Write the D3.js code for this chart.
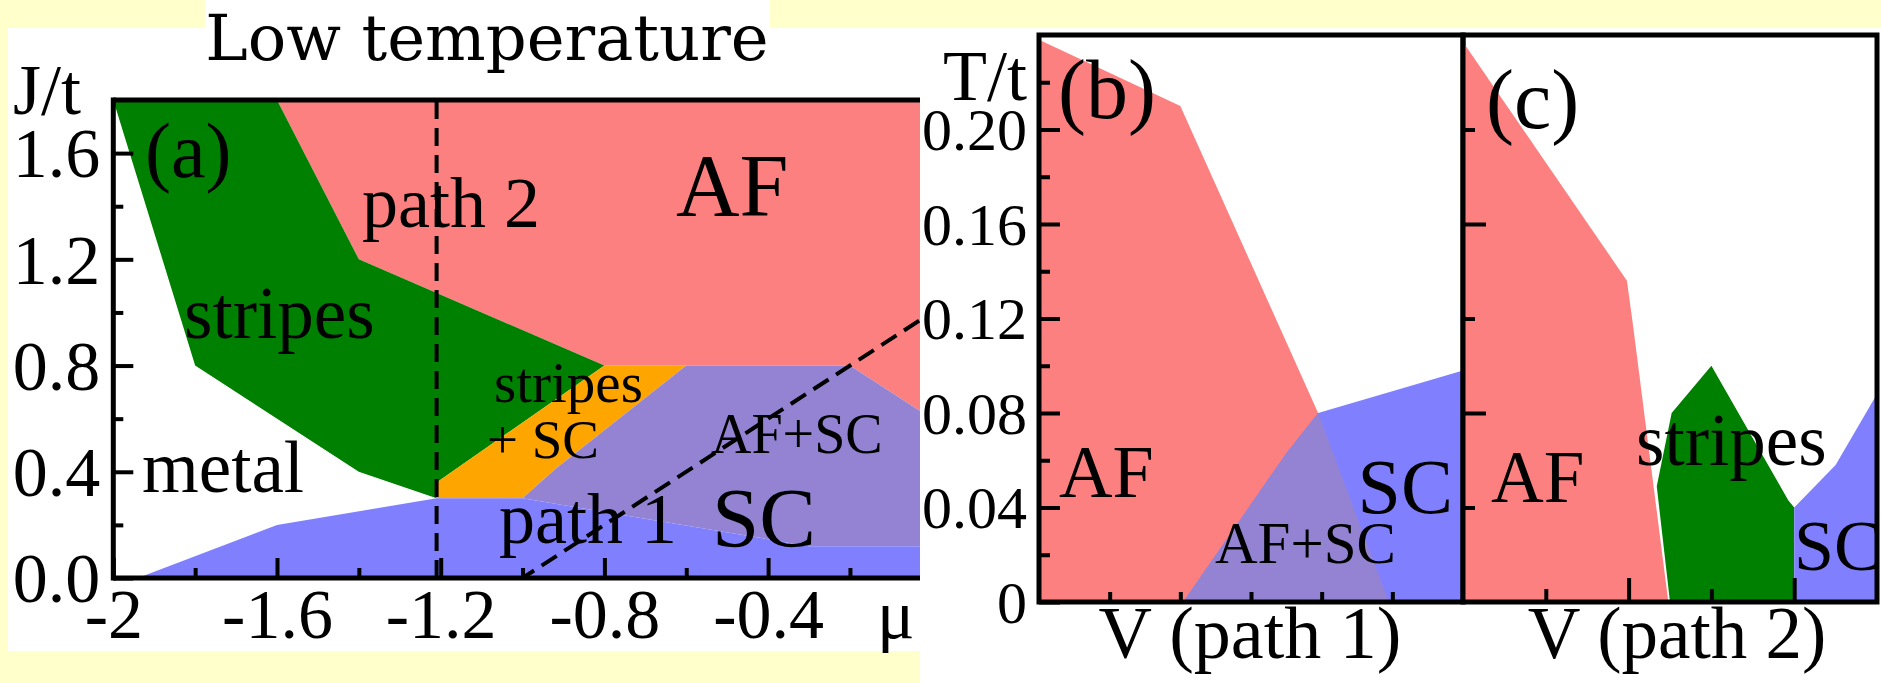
<!DOCTYPE html>
<html>
<head>
<meta charset="utf-8">
<script src="https://cdn.jsdelivr.net/npm/d3@7"></script>
<style>
  html, body { margin: 0; padding: 0; background: #ffffcc; }
  svg { display: block; }
  text { font-family: "Liberation Serif", "Times New Roman", serif; fill: #000; }
</style>
</head>
<body>
<svg id="fig" width="1881" height="683"></svg>
<script>
// ---------- Panel (a): low-temperature phase diagram in the (mu, J/t) plane ----------
const muMajorTicks = [-2, -1.6, -1.2, -0.8, -0.4];
const muMajorLabels = ["-2", "-1.6", "-1.2", "-0.8", "-0.4"];
const muMinorTicks = [-1.8, -1.4, -1.0, -0.6, -0.2];
const jMajorTicks = [0, 0.4, 0.8, 1.2, 1.6];
const jMajorLabels = ["0.0", "0.4", "0.8", "1.2", "1.6"];
const jMinorTicks = [0.2, 0.6, 1.0, 1.4];

// phase regions, [mu, J/t] vertices
const afRegionA       = [[-1.6, 1.8], [0, 1.8], [0, 0.6], [-0.2, 0.8], [-0.8, 0.8], [-1.4, 1.2]];
const stripesRegionA  = [[-2, 1.8], [-1.6, 1.8], [-1.4, 1.2], [-0.8, 0.8], [-1.21, 0.36], [-1.21, 0.3], [-1.4, 0.4], [-1.8, 0.8]];
const stripesScRegionA = [[-1.21, 0.3], [-1.21, 0.36], [-0.8, 0.8], [-0.6, 0.8], [-0.92, 0.41], [-1.0, 0.3]];
const afScRegionA     = [[-1.0, 0.3], [-0.92, 0.41], [-0.6, 0.8], [-0.2, 0.8], [0, 0.6], [0, 0.12], [-0.3, 0.12]];
const scRegionA       = [[-1.94, 0], [-1.6, 0.2], [-1.21, 0.3], [-1.0, 0.3], [-0.3, 0.12], [0, 0.12], [0, 0]];

// the two cuts followed in panels (b) and (c)
const path1 = [[-2, 0], [-1.0, 0], [0, 1.0]];
const path2 = [[-1.21, 0], [-1.21, 1.8]];

// ---------- Panel (b): T/t along path 1 ----------
const tMajorTicks = [0, 0.04, 0.08, 0.12, 0.16, 0.20];
const tMajorLabels = ["0", "0.04", "0.08", "0.12", "0.16", "0.20"];
const tMinorTicks = [0.02, 0.06, 0.10, 0.14, 0.18, 0.22];
const vTicksB = [1, 2, 3, 4, 5];

const afRegionB   = [[0, 0], [0, 0.238], [2, 0.21], [3.95, 0.08], [4.95, 0]];
const scRegionB   = [[2.04, 0], [3.5, 0.063], [3.95, 0.08], [6, 0.098], [6, 0]];
const afScRegionB = [[2.04, 0], [3.5, 0.063], [3.95, 0.08], [4.95, 0]];

// ---------- Panel (c): T/t along path 2 ----------
const tMajorTicksC = [0.08, 0.16];
const tMinorTicksC = [0.04, 0.12, 0.20];
const vMajorTicksC = [2, 4];
const vMinorTicksC = [1, 3];

const afRegionC      = [[0, 0], [0, 0.237], [1.98, 0.136], [2.05, 0.118], [2.48, 0]];
const stripesRegionC = [[2.5, 0], [2.34, 0.049], [2.52, 0.08], [3, 0.1], [3.93, 0.043], [4, 0.04], [4, 0]];
const scRegionC      = [[4, 0], [4, 0.04], [4.5, 0.058], [5, 0.088], [5, 0]];

// ---------- styling ----------
const colors = {
  af: "#fc8080",
  sc: "#8080ff",
  afsc: "#9383d2",
  stripes: "#008000",
  stripesSc: "#ffa500"
};
const frameWidth = 5;

const svg = d3.select("#fig");

// backgrounds
svg.append("rect").attr("x", 0).attr("y", 0).attr("width", 1881).attr("height", 683).attr("fill", "#ffffcc");
svg.append("rect").attr("x", 8).attr("y", 28).attr("width", 920 - 8).attr("height", 651 - 28).attr("fill", "#fff");
svg.append("rect").attr("x", 205).attr("y", 0).attr("width", 770 - 205).attr("height", 30).attr("fill", "#fff");

svg.append("text")
  .attr("x", 487).attr("y", 60)
  .attr("text-anchor", "middle")
  .style("font-family", "'DejaVu Serif', serif")
  .style("font-size", "64px")
  .text("Low temperature");

// helpers
function region(g, pts, x, y, fill) {
  g.append("path")
    .datum(pts)
    .attr("d", d3.line().x(d => x(d[0])).y(d => y(d[1])).curve(d3.curveLinearClosed))
    .attr("fill", fill)
    .attr("stroke", "none");
}
function label(g, txt, xPos, yPos, size, anchor) {
  g.append("text").attr("x", xPos).attr("y", yPos)
    .attr("text-anchor", anchor || "start")
    .style("font-size", size + "px")
    .text(txt);
}
function styleAxis(sel, w) {
  sel.select(".domain").remove();
  sel.selectAll(".tick line").attr("stroke", "#000").attr("stroke-width", w);
  sel.selectAll(".tick text").attr("fill", "#000").style("font-family", "'Liberation Serif', serif");
}

// ================= Panel (a) =================
const xA = d3.scaleLinear().domain([-2, 0]).range([113.3, 931.8]);
const yA = d3.scaleLinear().domain([0, 1.8]).range([578, 100]);
const gA = svg.append("g");

svg.append("defs").append("clipPath").attr("id", "clipA")
  .append("rect").attr("x", xA(-2)).attr("y", yA(1.8)).attr("width", 920 - xA(-2)).attr("height", yA(0) - yA(1.8));

const plotA = gA.append("g").attr("clip-path", "url(#clipA)");
region(plotA, afRegionA, xA, yA, colors.af);
region(plotA, stripesRegionA, xA, yA, colors.stripes);
region(plotA, stripesScRegionA, xA, yA, colors.stripesSc);
region(plotA, afScRegionA, xA, yA, colors.afsc);
region(plotA, scRegionA, xA, yA, colors.sc);

// minor + major ticks (drawn inward)
const axAyMinor = gA.append("g").attr("transform", `translate(${xA(-2)},0)`)
  .call(d3.axisLeft(yA).tickValues(jMinorTicks).tickSize(-10).tickFormat(""));
styleAxis(axAyMinor, 4);
const axAy = gA.append("g").attr("transform", `translate(${xA(-2)},0)`)
  .call(d3.axisLeft(yA).tickValues(jMajorTicks).tickSize(-20).tickPadding(13)
    .tickFormat((d, i) => jMajorLabels[i]));
styleAxis(axAy, 4);
axAy.selectAll(".tick text").style("font-size", "70px").attr("dy", "0.34em");

const axAxMinor = gA.append("g").attr("transform", `translate(0,${yA(0)})`)
  .call(d3.axisBottom(xA).tickValues(muMinorTicks).tickSize(-10).tickFormat(""));
styleAxis(axAxMinor, 4);
const axAx = gA.append("g").attr("transform", `translate(0,${yA(0)})`)
  .call(d3.axisBottom(xA).tickValues(muMajorTicks).tickSize(-20).tickPadding(0)
    .tickFormat((d, i) => muMajorLabels[i]));
styleAxis(axAx, 4);
axAx.selectAll(".tick text").style("font-size", "70px").attr("dy", null).attr("y", 60);

// dashed cuts
const cutLine = d3.line().x(d => xA(d[0])).y(d => yA(d[1]));
[path1, path2].forEach(p => {
  plotA.append("path").datum(p).attr("d", cutLine)
    .attr("fill", "none").attr("stroke", "#000").attr("stroke-width", 4)
    .attr("stroke-dasharray", "18,9");
});

// frame
gA.append("line").attr("x1", xA(-2)).attr("x2", 920).attr("y1", yA(1.8)).attr("y2", yA(1.8))
  .attr("stroke", "#000").attr("stroke-width", frameWidth);
gA.append("line").attr("x1", xA(-2)).attr("x2", 920).attr("y1", yA(0)).attr("y2", yA(0))
  .attr("stroke", "#000").attr("stroke-width", frameWidth);
gA.append("line").attr("x1", xA(-2)).attr("x2", xA(-2)).attr("y1", yA(1.8) - 2.5).attr("y2", yA(0) + 2.5)
  .attr("stroke", "#000").attr("stroke-width", frameWidth);

// labels
label(gA, "J/t", 13, 114, 72);
label(gA, "\u03bc", 877, 638, 70);
label(gA, "(a)", 145, 177, 78);
label(gA, "path 2", 362, 227, 72);
label(gA, "AF", 676, 215, 88);
label(gA, "stripes", 184, 338, 73);
label(gA, "metal", 142, 492, 73);
label(gA, "stripes", 494, 402, 57);
label(gA, "+ SC", 487, 458, 55);
label(gA, "AF+SC", 711, 453, 56);
label(gA, "path 1", 499, 543, 72);
label(gA, "SC", 712, 547, 85);

// ================= Panels (b) and (c) background =================
svg.append("rect").attr("x", 920).attr("y", 28).attr("width", 1881 - 920).attr("height", 683 - 28).attr("fill", "#fff");

// ================= Panel (b) =================
const xB = d3.scaleLinear().domain([0, 6]).range([1039, 1463]);
const yB = d3.scaleLinear().domain([0, 0.24]).range([602, 35]);
const gB = svg.append("g");

region(gB, afRegionB, xB, yB, colors.af);
region(gB, scRegionB, xB, yB, colors.sc);
region(gB, afScRegionB, xB, yB, colors.afsc);

const axByMinor = gB.append("g").attr("transform", `translate(${xB(0)},0)`)
  .call(d3.axisLeft(yB).tickValues(tMinorTicks).tickSize(-11).tickFormat(""));
styleAxis(axByMinor, 4);
const axBy = gB.append("g").attr("transform", `translate(${xB(0)},0)`)
  .call(d3.axisLeft(yB).tickValues(tMajorTicks).tickSize(-21).tickPadding(12)
    .tickFormat((d, i) => tMajorLabels[i]));
styleAxis(axBy, 4);
axBy.selectAll(".tick text").style("font-size", "60px").attr("dy", "0.34em");

const axBx = gB.append("g").attr("transform", `translate(0,${yB(0)})`)
  .call(d3.axisBottom(xB).tickValues(vTicksB).tickSize(-10).tickFormat(""));
styleAxis(axBx, 4);

gB.append("rect").attr("x", xB(0)).attr("y", yB(0.24)).attr("width", xB(6) - xB(0)).attr("height", yB(0) - yB(0.24))
  .attr("fill", "none").attr("stroke", "#000").attr("stroke-width", frameWidth);

label(gB, "T/t", 1027, 100, 72, "end");
label(gB, "(b)", 1058, 118, 84);
label(gB, "AF", 1059, 497, 74);
label(gB, "AF+SC", 1215, 563, 59);
label(gB, "SC", 1453, 513, 78, "end");
label(gB, "V (path 1)", 1250, 658, 74, "middle");

// ================= Panel (c) =================
const xC = d3.scaleLinear().domain([0, 5]).range([1463, 1877]);
const yC = d3.scaleLinear().domain([0, 0.24]).range([602, 35]);
const gC = svg.append("g");

region(gC, afRegionC, xC, yC, colors.af);
region(gC, stripesRegionC, xC, yC, colors.stripes);
region(gC, scRegionC, xC, yC, colors.sc);

const axCyMinor = gC.append("g").attr("transform", `translate(${xC(0)},0)`)
  .call(d3.axisLeft(yC).tickValues(tMinorTicksC).tickSize(-12).tickFormat(""));
styleAxis(axCyMinor, 4);
const axCy = gC.append("g").attr("transform", `translate(${xC(0)},0)`)
  .call(d3.axisLeft(yC).tickValues(tMajorTicksC).tickSize(-23).tickFormat(""));
styleAxis(axCy, 4);
const axCxMinor = gC.append("g").attr("transform", `translate(0,${yC(0)})`)
  .call(d3.axisBottom(xC).tickValues(vMinorTicksC).tickSize(-13).tickFormat(""));
styleAxis(axCxMinor, 4);
const axCx = gC.append("g").attr("transform", `translate(0,${yC(0)})`)
  .call(d3.axisBottom(xC).tickValues(vMajorTicksC).tickSize(-24).tickFormat(""));
styleAxis(axCx, 4);

label(gC, "(c)", 1486, 128, 84);
label(gC, "AF", 1491, 502, 73);
label(gC, "stripes", 1636, 465, 73);
label(gC, "SC", 1794, 570, 72);
label(gC, "V (path 2)", 1677, 658, 73, "middle");

gC.append("rect").attr("x", xC(0)).attr("y", yC(0.24)).attr("width", xC(5) - xC(0)).attr("height", yC(0) - yC(0.24))
  .attr("fill", "none").attr("stroke", "#000").attr("stroke-width", frameWidth);
</script>
</body>
</html>
